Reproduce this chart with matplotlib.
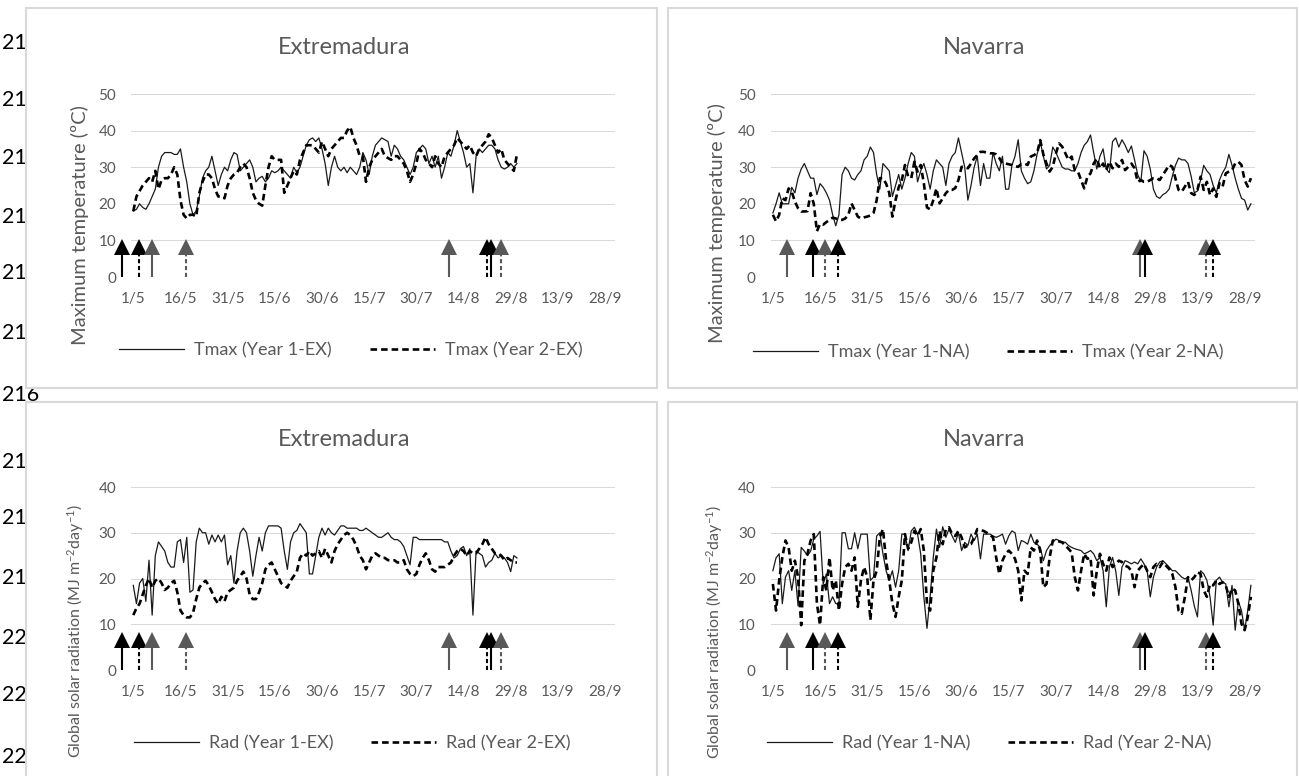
import numpy as np
import matplotlib
matplotlib.use('Agg')
from matplotlib import pyplot as plt
from matplotlib import transforms
from matplotlib.patches import Rectangle

plt.rcParams['font.family'] = ['Lato', 'DejaVu Sans']
plt.rcParams['mathtext.fontset'] = 'custom'
plt.rcParams['mathtext.rm'] = 'Lato'
plt.rcParams['mathtext.default'] = 'regular'

W, H = 1299, 776
GRAY = '#595959'
GRID = '#d9d9d9'
BLACK = '#000000'

# x axis: days counted from 1 May
tick_days = [0, 15, 30, 45, 60, 75, 90, 105, 120, 135, 150]
tick_labels = ['1/5', '16/5', '31/5', '15/6', '30/6', '15/7', '30/7', '14/8', '29/8', '13/9', '28/9']

# Extremadura, daily maximum temperature (1/5 - 31/8)
tmax_y1_ex = [18, 18.5, 20, 19, 18.5, 20, 22, 24, 30, 33,
              34, 34, 34, 33.5, 33.5, 35, 30, 26, 20, 17,
              18, 22, 27, 29, 30, 33, 29, 25, 28, 30,
              29, 32, 34, 33.5, 29, 30, 31, 32, 30, 26,
              27, 27.5, 26, 27, 29, 28.5, 29, 30, 29, 28,
              27, 30, 28.5, 30, 33, 36, 37.5, 38, 37, 38,
              35, 31, 25, 30, 33, 30, 29, 30, 28.5, 30,
              29, 28, 30, 34, 32, 28, 33, 36, 37, 38,
              37.5, 37, 33, 36, 35, 33, 32, 30, 28, 30,
              34, 35, 36, 35, 31, 33, 30, 33, 27, 30,
              34, 33, 36, 40, 37, 34, 30, 31, 23, 33,
              35, 34, 35, 36, 36, 35, 32, 30, 29.5, 30,
              31, 30, 31]
tmax_y2_ex = [18, 22, 23.5, 25, 26, 27, 26, 29, 24, 26.5,
              27, 27, 28, 30, 28, 21, 17, 16, 17, 17,
              16.5, 23, 26, 28, 28, 27, 24, 22, 22, 21.5,
              25, 27, 28, 28.5, 30, 31, 30, 27, 23, 21,
              20, 19.5, 25, 30, 33, 32, 32, 32, 23, 25,
              27, 29, 28, 32, 34, 36, 36, 36, 35, 34,
              37, 35, 33, 35, 36, 37, 38, 38, 40, 41,
              38, 36, 33, 33, 26, 30, 32, 33, 34, 35,
              33, 32.5, 32, 33, 33, 32, 31, 29, 26, 28,
              31, 35, 34, 32, 31, 30, 33, 31, 30, 33,
              34, 35, 36, 38, 37, 36, 35, 36, 34, 33,
              35, 36, 37, 39, 38, 36, 34, 35, 32, 31,
              30, 29, 33.5]

# Extremadura, global solar radiation
rad_y1_ex = [18.5, 14.5, 19, 20, 15, 24, 12, 25, 28, 27,
             26, 23.5, 22.5, 22.5, 28, 28.5, 23.5, 29, 17, 17.5,
             28, 31, 30, 30, 27.5, 29.5, 28, 29.5, 28, 29.5,
             23, 25, 19, 26, 30, 31, 30, 26, 20.5, 25,
             29, 26, 30, 31.5, 31.5, 31.5, 31.5, 31, 26, 22,
             28, 30, 30.5, 32, 31, 30, 21, 21, 25, 29,
             31, 29.5, 31, 30, 29.5, 30.5, 31.5, 31.5, 31, 31,
             31, 31, 30.5, 30.5, 31, 30.5, 30, 29.5, 29, 29,
             29.5, 30, 29, 28.5, 28.5, 28, 27, 25, 23, 29,
             29, 28.5, 28.5, 28.5, 28.5, 28.5, 28.5, 28.5, 28.5, 28,
             28, 26, 24.5, 25, 26.5, 27, 25, 26.5, 12, 26,
             25.5, 25, 22.5, 23.5, 24, 25.5, 24.5, 25, 24.5, 23.5,
             21.5, 25, 24.5]
rad_y2_ex = [12, 13.5, 14.5, 16.5, 18.5, 20, 18, 19.5, 20, 19,
             17.5, 18, 19, 19.5, 17, 13, 12, 11.5, 11.5, 12.5,
             15.5, 18, 19, 19.5, 18.5, 17, 15.5, 14.5, 16, 15,
             17, 17.5, 18, 19.5, 20.5, 21.5, 20, 16.5, 15.5, 15.5,
             17, 19, 22, 23, 23.5, 22, 20.5, 19, 18.5, 18,
             19.5, 20.5, 21.5, 24.5, 25.5, 25, 26, 25, 25.5, 26,
             24.5, 26.5, 25, 23.5, 26, 27.5, 28.5, 29.5, 30, 29.5,
             28.5, 27, 25, 24, 22, 23.5, 25, 25.5, 25, 24.5,
             24.5, 24, 24, 24, 23.5, 23.5, 24, 22, 21, 20.5,
             21, 23, 24.5, 25.5, 24, 22, 21.5, 22.5, 22.5, 22.5,
             23, 23.5, 25, 26, 26.5, 26, 25, 26, 25.5, 25.5,
             26.5, 27.5, 29, 27.5, 26.5, 25.5, 25.5, 25, 24, 24.5,
             24, 23.5, 23.5]

# Navarra, daily maximum temperature (1/5 - 30/9)
tmax_y1_na = [17.5, 20, 23, 20, 20, 20, 24.5, 23, 27, 29.5,
              31, 29, 27, 27, 22.5, 25.5, 24.5, 23, 21, 17,
              14, 17, 28, 30, 29, 27, 26.5, 28, 29, 32,
              33, 35.5, 34, 28, 24, 31, 30, 29, 22, 25,
              28, 24, 27, 31, 34, 33, 26, 29, 31, 28,
              24, 29, 32, 31, 30, 25, 31, 33, 34, 38,
              34, 30, 21, 25, 30, 33, 25, 31, 27, 27,
              34, 31, 29, 33, 24, 24, 30.5, 33, 37.5, 29,
              27, 25.5, 26, 29, 33.5, 37, 33, 29.5, 30.5, 35.5,
              34, 32, 30, 29.5, 29.5, 29, 29, 31, 34, 36,
              37, 38.8, 34, 29.5, 33, 35, 29.5, 28.5, 37, 38,
              35.5, 37.5, 36, 34, 35.8, 32, 28, 26, 34.5, 33,
              29.5, 24, 22, 21.5, 22.5, 23, 24, 27.5, 30.5, 32.5,
              32, 32, 31, 27.5, 23, 23.5, 26.5, 30.5, 29, 28,
              25, 23, 26.5, 28.5, 30, 33.5, 30.5, 27, 24, 21.5,
              21, 18.3, 20]
tmax_y2_na = [17, 15.2, 17, 21.5, 21, 24.2, 23.3, 20.6, 18.8, 17.9,
              17.9, 18, 22.9, 20, 12.5, 14.5, 14.3, 15, 15.6, 16.2,
              16, 15.6, 15.6, 16, 17, 20.1, 18.3, 16.5, 16, 16.3,
              16.5, 16.8, 17.5, 21, 27, 27, 25.5, 23, 16.5, 21,
              24.5, 26.5, 30.6, 27.5, 27, 31.5, 28.8, 30.6, 25.6, 19,
              18.5, 21, 24.2, 20.1, 21.5, 22.9, 23.8, 23.8, 24.3, 26.5,
              30.1, 30.1, 29.7, 31, 32.4, 33.3, 34.2, 34.2, 34, 33.8,
              33.8, 33.5, 32.5, 31, 31, 30.8, 30.6, 30.3, 30.1, 30.9,
              31, 30.6, 32.9, 33.3, 33.8, 37.4, 33.5, 31, 28.8, 30.1,
              33.8, 36.5, 35.6, 33.8, 32, 32.9, 29.2, 28.8, 26.5, 24.2,
              27.4, 28.3, 31, 32.4, 29.7, 31, 29.2, 31.5, 29.7, 31,
              30.1, 32, 29.2, 30.1, 31, 29.7, 26, 26.5, 26, 26,
              26.5, 27, 27, 26.5, 27.9, 29.2, 30.6, 30.1, 27, 23.8,
              23.3, 24.7, 26, 22.9, 22.4, 23.8, 27.4, 23.8, 26, 22.4,
              24.2, 21.9, 25.6, 24.7, 28.3, 28.8, 29.2, 31, 31.5, 30.6,
              26.5, 24.7, 27]

# Navarra, global solar radiation
rad_y1_na = [21.7, 24.5, 25.4, 14.5, 20.3, 21.7, 17.4, 21.7, 14, 26.8,
             26, 25, 26, 28.6, 29.3, 30.3, 18.8, 21, 14.5, 16,
             14.5, 14.5, 30, 30, 26.5, 26.5, 30, 26.5, 29.7, 29.7,
             29.7, 19.6, 20.3, 29.3, 30, 25.4, 21.7, 19.6, 21.7, 18.1,
             21.7, 29.7, 29.7, 26.1, 30.4, 31.2, 29.7, 25.4, 16, 9.1,
             16, 24.6, 30.8, 26.8, 31.3, 29, 30.8, 29.3, 27.9, 30,
             26.1, 27.9, 27.2, 29.7, 28.3, 29.7, 24.3, 29.7, 29.7, 29.7,
             29.3, 29, 29.3, 29.7, 27.5, 29.3, 30.4, 30, 26.1, 28.3,
             28, 27.5, 29.7, 27.9, 27.5, 26.8, 23.9, 26.1, 27.2, 27.9,
             28.6, 28.3, 28, 27.9, 27.2, 26.8, 26.5, 26.3, 26.1, 25.4,
             25.7, 26.1, 25.4, 23.9, 24.6, 21.7, 13.8, 22.5, 24.6, 21.7,
             16.3, 22.5, 23.9, 23.6, 23.2, 23.6, 23.2, 24.3, 23.2, 21.7,
             16, 20.3, 22.5, 23.6, 23.9, 23.2, 22.5, 21.7, 21.7, 21,
             20.3, 19.9, 20.3, 17.4, 14, 11.6, 21.7, 21, 19.6, 16,
             9.8, 19.6, 20.3, 19.2, 18.8, 13.8, 18.5, 8.7, 15, 13,
             8.7, 13, 18.5]
rad_y2_na = [18.8, 13, 19.6, 24.6, 28.3, 26.8, 21.7, 23.9, 20.3, 9.8,
             23.9, 25.4, 28.3, 29.7, 14.5, 9.8, 20.3, 17.4, 24.6, 17.4,
             19.6, 13, 18.8, 22.5, 23.2, 21.7, 24.6, 13.8, 19.6, 22.5,
             20.3, 10.9, 19.6, 21.7, 29, 30.8, 23.9, 19.6, 14.5, 11.6,
             16, 19.6, 29.7, 26.5, 27.9, 30.4, 29.3, 30.8, 26.1, 14.5,
             13, 21.7, 24.6, 30.4, 27.5, 30.8, 31.2, 29.7, 29.3, 30.4,
             29, 26.8, 27.2, 27.5, 29, 30.8, 30.6, 30.4, 30, 29.5,
             29, 24.6, 21, 23.9, 25.4, 26.1, 25.4, 24.3, 21.7, 15.2,
             21.7, 21, 26.8, 26.1, 28.3, 26.1, 18.1, 18.8, 24.6, 28.3,
             28.3, 28.1, 27.9, 27.2, 26.5, 25.7, 20.3, 17.4, 21.7, 25.4,
             24.3, 24.6, 16.3, 21.7, 25.4, 23.2, 21.7, 24.6, 22.5, 23.2,
             23.9, 23.6, 22.8, 22.5, 21.7, 18.1, 21.7, 22.5, 23.2, 21.7,
             20.3, 22.5, 23.2, 22.5, 23.6, 22.8, 22.1, 21, 18.1, 13,
             12.3, 16, 20.3, 19.6, 20.3, 21.4, 21, 17.4, 16, 18.8,
             18.5, 19.6, 18.8, 19.2, 18.5, 16, 17.8, 17.4, 14.5, 10.1,
             8.7, 11.6, 16]

# event arrows (day, colour, dashed stem)
ex_arrow_days = [-3.5, 1.9, 5.9, 16.9, 100.5, 112.5, 113.6, 116.8]
ex_arrow_colors = [BLACK, BLACK, GRAY, GRAY, GRAY, BLACK, BLACK, GRAY]
ex_arrow_dashed = [False, True, False, True, False, True, False, True]
na_arrow_days = [4.6, 12.7, 16.5, 20.6, 116.6, 118.2, 137.6, 139.9]
na_arrow_colors = [GRAY, BLACK, GRAY, BLACK, GRAY, BLACK, GRAY, BLACK]
na_arrow_dashed = [False, False, True, True, False, False, True, True]

# document line numbers peeking out on the left
line_numbers = ['210', '211', '212', '213', '214', '215', '216',
                '217', '218', '219', '220', '221', '222']
line_number_y = [43, 100, 158, 217, 273, 333, 395, 462, 518, 578, 638, 695, 757]


def fxy(x, y):
    # image pixel -> figure fraction
    return x / W, 1 - y / H


fig = plt.figure(figsize=(W / 100, H / 100), dpi=100)

for txt, y in zip(line_numbers, line_number_y):
    fig.text(*fxy(2, y), txt, fontsize=15.5, color=BLACK, ha='left', va='center', zorder=0.5)

for x0, y0, w, h in [(26, 8, 631, 380), (668, 8, 629, 380), (26, 402, 631, 380), (668, 402, 629, 380)]:
    fig.add_artist(Rectangle(fxy(x0, y0 + h), w / W, h / H, transform=fig.transFigure,
                             facecolor='white', edgecolor=GRID, lw=1.5, zorder=1))


def panel(left, top, ys, labels, ymax, arrows, title, title_x, ylabel, ylabel_xy, ylabel_size, leg_xy):
    x0, y0 = fxy(left, top + 183)
    ax = fig.add_axes([x0, y0, 484 / W, 183 / H])
    ax.set_zorder(2)
    ax.patch.set_alpha(0)

    ax.plot(np.arange(len(ys[0])), ys[0], color='#1a1a1a', lw=0.9, label=labels[0])
    ax.plot(np.arange(len(ys[1])), ys[1], color=BLACK, lw=1.9, ls=(0, (2.5, 1.5)), label=labels[1])

    trans = transforms.blended_transform_factory(ax.transData, ax.transAxes)
    for d, c, dashed in zip(*arrows):
        ax.plot([d, d], [0, 0.16], color=c, lw=1.5, ls=(0, (2, 1.3)) if dashed else '-',
                transform=trans, clip_on=False, solid_capstyle='butt')
        ax.plot([d], [0.166], marker='^', ms=11.5, color=c, mew=0, transform=trans, clip_on=False)

    ax.set_xlim(-0.6, 153.3)
    ax.set_ylim(0, ymax)
    ax.set_yticks(np.arange(0, ymax + 1, 10))
    ax.set_xticks(tick_days, tick_labels)
    ax.grid(axis='y', color=GRID, lw=0.75)
    ax.set_axisbelow(True)
    for s in ax.spines.values():
        s.set_visible(False)
    ax.tick_params(length=0, labelsize=11, colors=GRAY)
    ax.tick_params(axis='y', pad=11)
    ax.tick_params(axis='x', pad=10.5)

    ax.legend(loc='center', bbox_to_anchor=fxy(*leg_xy), bbox_transform=fig.transFigure,
              ncol=2, frameon=False, fontsize=13, labelcolor=GRAY, handlelength=3.6,
              handletextpad=0.55, columnspacing=2.1, borderpad=0, borderaxespad=0)

    fig.text(*fxy(title_x, top - 47), title, fontsize=17, color=GRAY, ha='center', va='center', zorder=3)
    fig.text(*fxy(*ylabel_xy), ylabel, fontsize=ylabel_size, color=GRAY, rotation=90,
             ha='center', va='center', zorder=3)
    return ax


ex_arrows = (ex_arrow_days, ex_arrow_colors, ex_arrow_dashed)
na_arrows = (na_arrow_days, na_arrow_colors, na_arrow_dashed)
rad_label = 'Global solar radiation (MJ m$^{-2}$day$^{-1}$)'

panel(131.4, 94, (tmax_y1_ex, tmax_y2_ex), ['Tmax (Year 1-EX)', 'Tmax (Year 2-EX)'], 50, ex_arrows,
      'Extremadura', 344, 'Maximum temperature (ºC)', (80, 225), 14.5, (351, 350))
panel(771, 94, (tmax_y1_na, tmax_y2_na), ['Tmax (Year 1-NA)', 'Tmax (Year 2-NA)'], 50, na_arrows,
      'Navarra', 984, 'Maximum temperature (ºC)', (717, 223), 14.5, (988, 352))
panel(131.4, 487, (rad_y1_ex, rad_y2_ex), ['Rad (Year 1-EX)', 'Rad (Year 2-EX)'], 40, ex_arrows,
      'Extremadura', 344, rad_label, (76, 631), 11.5, (352, 743))
panel(771, 487, (rad_y1_na, rad_y2_na), ['Rad (Year 1-NA)', 'Rad (Year 2-NA)'], 40, na_arrows,
      'Navarra', 984, rad_label, (715, 632), 11.5, (989, 743))

fig.savefig('out.png', dpi=100)
